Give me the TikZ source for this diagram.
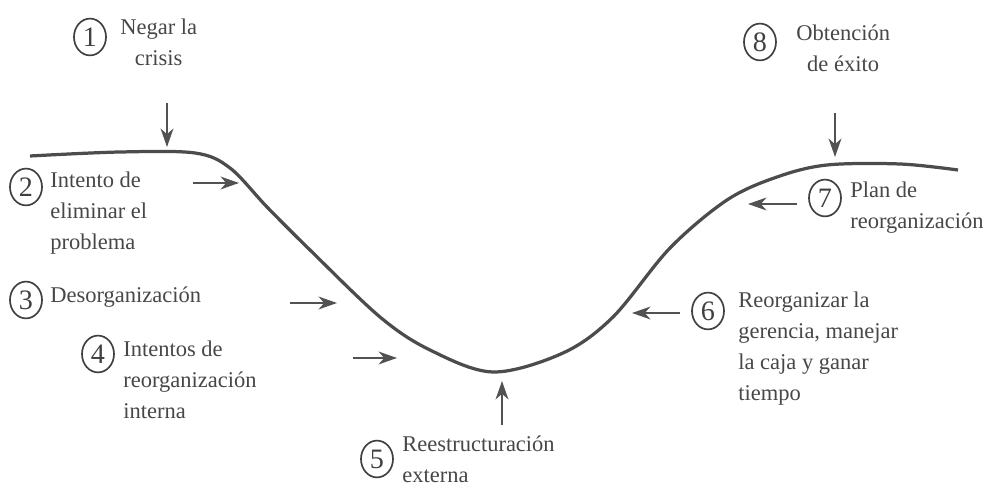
\documentclass[tikz,border=0pt]{standalone}
\usepackage{fontspec}
\setmainfont{Liberation Serif}
\usetikzlibrary{arrows.meta,positioning,shapes.geometric}

\begin{document}
\begin{tikzpicture}[
    x=0.025cm, y=-0.025cm,
    num/.style={ellipse, draw=black!75, line width=1.2pt, minimum width=0.8cm, minimum height=0.92cm, inner sep=0pt, text=black!75, font=\fontsize{20}{20}\selectfont},
    phase/.style={anchor=north west, inner sep=0pt, align=left, text=black!72, font=\fontsize{16}{22}\selectfont},
    arrow/.style={-{Stealth[length=4.6mm, width=3.2mm, inset=1.4mm]}, line width=1.5pt, draw=black!68},
    curve/.style={line width=2.3pt, draw=black!70},
]
\useasboundingbox (0,0) rectangle (988,490);

% the crisis curve
\draw[curve] plot[smooth, tension=0.55] coordinates {(30,156) (120,152) (195,153) (230,168) (267,207) (310,250) (380,317) (430,350) (493,372) (563,353) (613,317) (670,248) (727,200) (777,177) (827,165) (900,164) (958,170)};

% numbered phases
\node[num] (c1) at (90,37) {1};
\node[phase, align=center] (t1) at (120,19) {Negar la\\crisis};
\node[num] (c2) at (26,187) {2};
\node[phase] (t2) at (50,172) {Intento de\\eliminar el\\problema};
\node[num] (c3) at (26,300) {3};
\node[phase] (t3) at (50,287) {Desorganización};
\node[num] (c4) at (98,354) {4};
\node[phase] (t4) at (123,341) {Intentos de\\reorganización\\interna};
\node[num] (c5) at (377,459) {5};
\node[phase] (t5) at (402,436) {Reestructuración\\externa};
\node[num] (c6) at (708,311) {6};
\node[phase] (t6) at (738,292) {Reorganizar la\\gerencia, manejar\\la caja y ganar\\tiempo};
\node[num] (c7) at (825,198) {7};
\node[phase] (t7) at (850,182) {Plan de\\reorganización};
\node[num] (c8) at (760,42) {8};
\node[phase, align=center] (t8) at (796,25) {Obtención\\de éxito};

% arrows pointing at the curve
\foreach \i/\from/\to in {1/{167,103}/{167,147}, 2/{193,183}/{239,183}, 3/{290,303}/{337,303}, 4/{353,358}/{397,358}, 5/{502,425}/{502,381}, 6/{680,313}/{632,313}, 7/{797,204}/{748,204}, 8/{835,113}/{835,157}} {
  \coordinate (s\i) at (\from);
  \coordinate (e\i) at (\to);
  \draw[arrow] (s\i) -- (e\i);
}
\end{tikzpicture}
\end{document}
